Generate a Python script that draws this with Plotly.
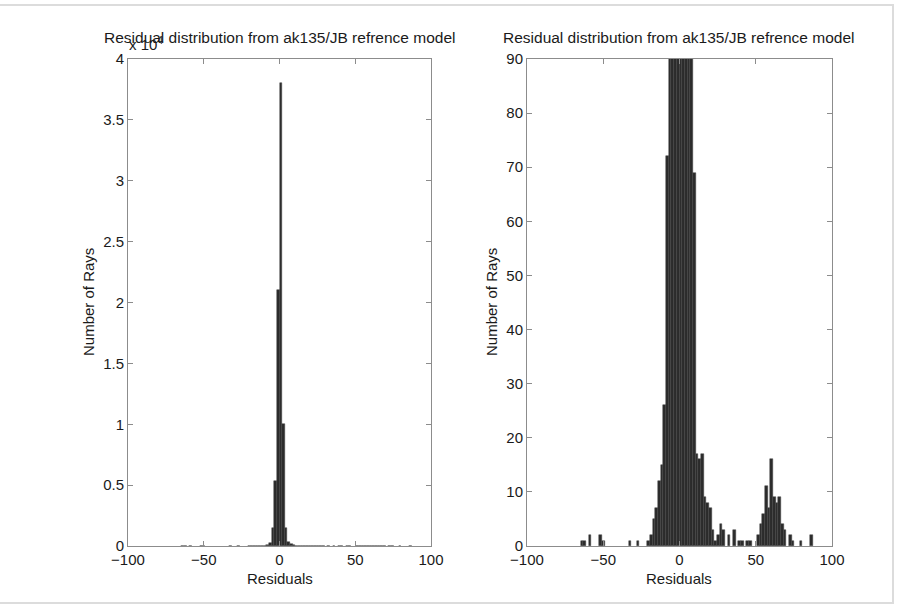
import plotly.graph_objects as go

# ---- data (histogram of residuals, bin width 1.75) ----
bin_centers = [-63.875, -62.125, -58.625, -51.625, -49.875, -32.375, -27.125,
               -20.125, -18.375, -16.625, -14.875, -13.125, -11.375, -9.625, -7.875,
               -6.125, -4.375, -2.625, -0.875, 0.875, 2.625, 4.375, 6.125, 7.875,
               9.625, 11.375, 13.125, 14.875, 16.625, 18.375, 20.125, 21.875, 23.625,
               25.375, 27.125, 28.875, 32.375, 35.875, 39.375, 41.125, 44.625, 46.375,
               51.625, 53.375, 55.125, 56.875, 58.625, 60.375, 62.125, 63.875, 65.625,
               67.375, 69.125, 72.625, 74.375, 79.625, 86.625]
ray_counts = [1, 1, 2, 2, 1, 1, 1,
              1, 2, 5, 7, 12, 15, 26, 72,
              250, 1500, 5300, 21000, 38000, 10000, 1500, 350, 150,
              69, 17, 16, 17, 9, 8, 7, 3, 1,
              2, 4, 3, 2, 3, 1, 1, 1, 1,
              2, 4, 6, 11, 7, 16, 9, 8, 9,
              4, 3, 2, 1, 1, 2]
bin_width = 1.75

x_ticks = [-100, -50, 0, 50, 100]
left_y_ticks = [0, 5000, 10000, 15000, 20000, 25000, 30000, 35000, 40000]
left_y_text = ["0", "0.5", "1", "1.5", "2", "2.5", "3", "3.5", "4"]
right_y_ticks = [0, 10, 20, 30, 40, 50, 60, 70, 80, 90]

title_text = "Residual distribution from ak135/JB refrence model"

W, H = 908, 610
FONT = "Liberation Sans, Arial, Helvetica, sans-serif"
TXT = "#1a1a1a"
BAR = "#2b2b2b"
AXC = "#8c8c8c"

def px(x):
    return x / W

def py(y):
    return 1 - y / H

left_dom = [px(128), px(431)]
right_dom = [px(527), px(832)]
y_dom = [py(546), py(59)]

fig = go.Figure()
for xa, ya in (("x", "y"), ("x2", "y2")):
    fig.add_trace(go.Bar(
        x=bin_centers, y=ray_counts, width=bin_width,
        marker=dict(color=BAR, line=dict(color="#454545", width=0.5)),
        xaxis=xa, yaxis=ya, showlegend=False, hoverinfo="x+y"))

axis_common = dict(showline=True, linecolor=AXC, linewidth=1, mirror="ticks",
                   ticks="inside", ticklen=5, tickcolor=AXC, showgrid=False,
                   zeroline=False, automargin=False,
                   tickfont=dict(family=FONT, size=15, color=TXT))

fig.update_layout(
    width=W, height=H,
    margin=dict(l=0, r=0, t=0, b=0, pad=0),
    paper_bgcolor="white", plot_bgcolor="white",
    bargap=0,
    font=dict(family=FONT, size=15, color=TXT),
    xaxis=dict(domain=left_dom, anchor="y", range=[-100, 100],
               tickvals=x_ticks, **axis_common),
    yaxis=dict(domain=y_dom, anchor="x", range=[0, 40000],
               tickvals=left_y_ticks, ticktext=left_y_text, **axis_common),
    xaxis2=dict(domain=right_dom, anchor="y2", range=[-100, 100],
                tickvals=x_ticks, **axis_common),
    yaxis2=dict(domain=y_dom, anchor="x2", range=[0, 90],
                tickvals=right_y_ticks, **axis_common),
)

ann = []
# titles
for cx in (280, 679):
    ann.append(dict(x=px(cx), y=py(37), xref="paper", yref="paper", text=title_text,
                    showarrow=False, xanchor="center", yanchor="middle",
                    font=dict(family=FONT, size=15.5, color=TXT)))
# x axis titles
for cx in (280, 679):
    ann.append(dict(x=px(cx), y=py(578), xref="paper", yref="paper", text="Residuals",
                    showarrow=False, xanchor="center", yanchor="middle",
                    font=dict(family=FONT, size=15, color=TXT)))
# y axis titles
for cx in (88, 491):
    ann.append(dict(x=px(cx), y=py(302), xref="paper", yref="paper", text="Number of Rays",
                    showarrow=False, xanchor="center", yanchor="middle", textangle=-90,
                    font=dict(family=FONT, size=15, color=TXT)))
# exponent label
ann.append(dict(x=px(127), y=py(44), xref="paper", yref="paper", text="x 10<sup>4</sup>",
                showarrow=False, xanchor="left", yanchor="middle",
                font=dict(family=FONT, size=15, color=TXT)))
fig.update_layout(annotations=ann)

# light page frame
fig.add_shape(type="rect", xref="paper", yref="paper",
              x0=px(-2), x1=px(893), y0=py(603), y1=py(5),
              line=dict(color="#dcdcdc", width=2), fillcolor="rgba(0,0,0,0)", layer="below")

fig.write_html("out.html", config={"displayModeBar": False},
               post_script="document.body.style.margin='0px';document.body.style.overflow='hidden';")
